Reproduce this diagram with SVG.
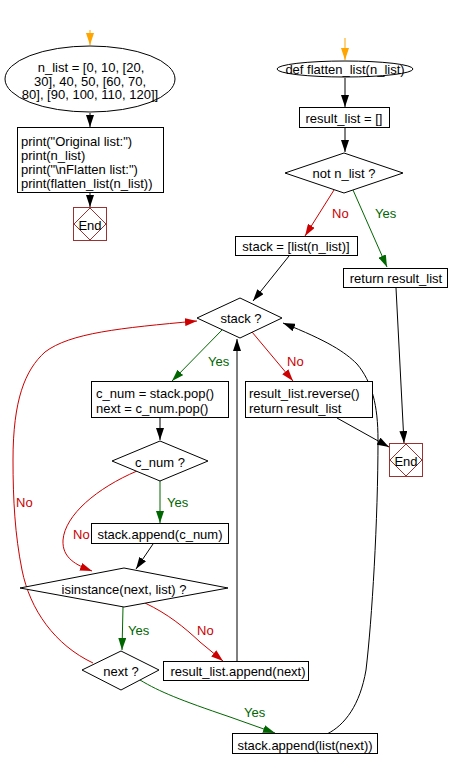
<svg xmlns="http://www.w3.org/2000/svg" width="449" height="769" viewBox="0 0 449 769">
<defs>
<style>
text{font-family:"Liberation Sans",Arial,sans-serif;font-size:13px;fill:#000}
.c{text-anchor:middle}
.shape{fill:#fff;stroke:#000;stroke-width:1}
.end{fill:#fff;stroke:#993333;stroke-width:1}
.k{fill:none;stroke:#000;stroke-width:1}
.r{fill:none;stroke:#cc0000;stroke-width:1}
.g{fill:none;stroke:#006600;stroke-width:1}
.o{fill:none;stroke:#ffa500;stroke-width:1}
.lr{fill:#cc0000}
.lg{fill:#006600}
</style>
<marker id="ak" viewBox="0 0 12 8" refX="12" refY="4" markerWidth="12" markerHeight="8" markerUnits="userSpaceOnUse" orient="auto"><path d="M0,0 L12,4 L0,8 z" fill="#000"/></marker>
<marker id="ar" viewBox="0 0 12 8" refX="12" refY="4" markerWidth="12" markerHeight="8" markerUnits="userSpaceOnUse" orient="auto"><path d="M0,0 L12,4 L0,8 z" fill="#cc0000"/></marker>
<marker id="ag" viewBox="0 0 12 8" refX="12" refY="4" markerWidth="12" markerHeight="8" markerUnits="userSpaceOnUse" orient="auto"><path d="M0,0 L12,4 L0,8 z" fill="#006600"/></marker>
<marker id="ao" viewBox="0 0 12 8" refX="12" refY="4" markerWidth="12" markerHeight="8" markerUnits="userSpaceOnUse" orient="auto"><path d="M0,0 L12,4 L0,8 z" fill="#ffa500"/></marker>
</defs>

<g id="connectors">
<path class="o" d="M90,30 L90,45" marker-end="url(#ao)"/>
<path class="k" d="M90,113 L90,127" marker-end="url(#ak)"/>
<path class="k" d="M90,193 L90,207" marker-end="url(#ak)"/>
<path class="o" d="M345,38 L345,60" marker-end="url(#ao)"/>
<path class="k" d="M345,78 L345,107" marker-end="url(#ak)"/>
<path class="k" d="M345,128 L345,152" marker-end="url(#ak)"/>
<path class="r" d="M334,190 L305,236" marker-end="url(#ar)"/>
<path class="g" d="M353,190 L387,267" marker-end="url(#ag)"/>
<path class="k" d="M289,256 L253,301" marker-end="url(#ak)"/>
<path class="g" d="M222,330 L172,381" marker-end="url(#ag)"/>
<path class="r" d="M252,332 L293,381" marker-end="url(#ar)"/>
<path class="k" d="M337,418 L389,447" marker-end="url(#ak)"/>
<path class="k" d="M396,288 L404,443" marker-end="url(#ak)"/>
<path class="k" d="M327,734 C345,725 360,705 366,670 C372,620 378,520 378,440 C378,405 372,382 357,364 C345,352 328,341 283,323" marker-end="url(#ak)"/>
<path class="k" d="M160,418 L160,440" marker-end="url(#ak)"/>
<path class="g" d="M160,481 L160,523" marker-end="url(#ag)"/>
<path class="r" d="M137,471 C97,488 65,515 63,540 C62,558 76,565 92,571" marker-end="url(#ar)"/>
<path class="k" d="M153,544 L136,569" marker-end="url(#ak)"/>
<path class="g" d="M123,607 L122,650" marker-end="url(#ag)"/>
<path class="r" d="M145,603 C168,614 184,627 200,642 L223,661" marker-end="url(#ar)"/>
<path class="g" d="M140,680 C160,692 180,700 230,717 L275,733" marker-end="url(#ag)"/>
<path class="k" d="M237,661 L237,339" marker-end="url(#ak)"/>
<path class="r" d="M93,663 C55,645 30,610 22,570 C15,535 13,500 13,460 C13,400 25,370 45,352 C70,333 120,328 197,321" marker-end="url(#ar)"/>
<text class="lr" x="332" y="218">No</text>
<text class="lg" x="375" y="218">Yes</text>
<text class="lg" x="208" y="366">Yes</text>
<text class="lr" x="287" y="366">No</text>
<text class="lg" x="167" y="507">Yes</text>
<text class="lr" x="73" y="539">No</text>
<text class="lr" x="16" y="507">No</text>
<text class="lg" x="128" y="635">Yes</text>
<text class="lr" x="197" y="635">No</text>
<text class="lg" x="244" y="717">Yes</text>
</g>

<g id="n_list">
<ellipse class="shape" cx="90" cy="79" rx="85" ry="33"/>
<text class="c" x="91" y="72">n_list = [0, 10, [20,</text>
<text class="c" x="90" y="85.5">30], 40, 50, [60, 70,</text>
<text class="c" x="90" y="99">80], [90, 100, 110, 120]]</text>
</g>

<g id="print_box">
<rect class="shape" x="17.5" y="127.5" width="146" height="65"/>
<text x="21" y="145.5">print("Original list:")</text>
<text x="21" y="159.5">print(n_list)</text>
<text x="21" y="173.5">print("\nFlatten list:")</text>
<text x="21" y="187.5">print(flatten_list(n_list))</text>
</g>

<g id="end_left">
<rect class="end" x="73.5" y="207.5" width="33" height="33"/>
<path class="end" d="M90,208 L106,224 L90,240 L74,224 z"/>
<text class="c" x="90" y="229.5">End</text>
</g>

<g id="def_flatten">
<ellipse class="shape" cx="345" cy="69" rx="68" ry="8"/>
<text class="c" x="345" y="74">def flatten_list(n_list)</text>
</g>

<g id="result_init">
<rect class="shape" x="299.5" y="107.5" width="90" height="20"/>
<text class="c" x="344" y="122.5">result_list = []</text>
</g>

<g id="not_n_list">
<polygon class="shape" points="344,153 403,173 344,193 285,173"/>
<text class="c" x="344" y="178">not n_list ?</text>
</g>

<g id="stack_init">
<rect class="shape" x="235.5" y="236.5" width="122" height="19"/>
<text class="c" x="296" y="251">stack = [list(n_list)]</text>
</g>

<g id="return_result">
<rect class="shape" x="343.5" y="268.5" width="104" height="19"/>
<text class="c" x="396" y="283">return result_list</text>
</g>

<g id="stack_q">
<polygon class="shape" points="240,298 282,318 240,338 197,318"/>
<text class="c" x="241" y="323">stack ?</text>
</g>

<g id="pop_box">
<rect class="shape" x="91.5" y="381.5" width="137" height="36"/>
<text x="96" y="398">c_num = stack.pop()</text>
<text x="96" y="412.5">next = c_num.pop()</text>
</g>

<g id="reverse_box">
<rect class="shape" x="245.5" y="381.5" width="127" height="36"/>
<text x="249" y="398">result_list.reverse()</text>
<text x="249" y="412.5">return result_list</text>
</g>

<g id="end_right">
<rect class="end" x="389.5" y="443.5" width="33" height="33"/>
<path class="end" d="M406,444 L422,460 L406,476 L390,460 z"/>
<text class="c" x="406" y="465.5">End</text>
</g>

<g id="c_num_q">
<polygon class="shape" points="160,441 208,461 160,481 112,461"/>
<text class="c" x="160" y="466.5">c_num ?</text>
</g>

<g id="append_c_num">
<rect class="shape" x="91.5" y="523.5" width="137" height="20"/>
<text class="c" x="160" y="539">stack.append(c_num)</text>
</g>

<g id="isinstance_q">
<polygon class="shape" points="124,568 228,588 124,607 20,588"/>
<text class="c" x="124" y="593.5">isinstance(next, list) ?</text>
</g>

<g id="next_q">
<polygon class="shape" points="121,651 159,670 121,690 82,670"/>
<text class="c" x="121" y="676">next ?</text>
</g>

<g id="append_next">
<rect class="shape" x="163.5" y="661.5" width="145" height="19"/>
<text class="c" x="238" y="676">result_list.append(next)</text>
</g>

<g id="append_list_next">
<rect class="shape" x="232.5" y="733.5" width="145" height="20"/>
<text class="c" x="305" y="749.5">stack.append(list(next))</text>
</g>
</svg>
